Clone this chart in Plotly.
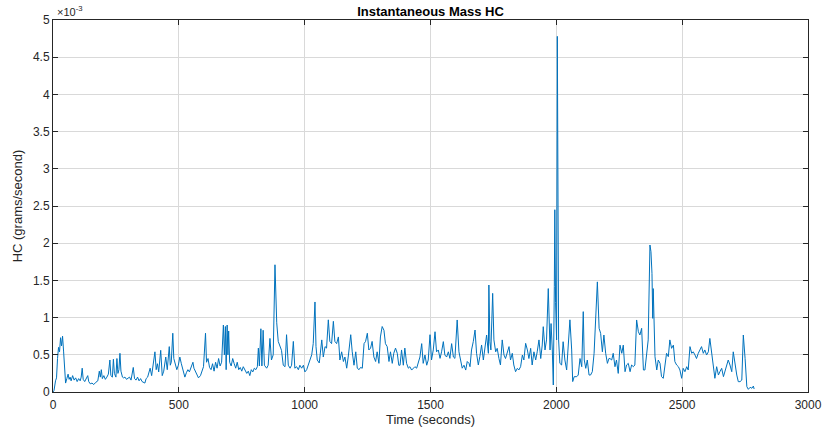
import plotly.graph_objects as go

# Time (s) and HC mass rate (x 1e-3 g/s)
t_sec = [
    0, 4, 10, 14, 18, 22, 26, 30, 34, 38, 42, 46, 50, 55, 60, 64, 68, 72, 78, 84, 90, 96, 102, 108, 112, 116, 120,
    126, 132, 138, 142, 148, 155, 162, 170, 178, 184, 188, 192, 196, 202, 208, 214, 220, 226, 230, 236, 240, 244,
    250, 254, 258, 262, 266, 270, 276,
    280, 286, 292, 298, 304, 310, 319, 324, 330, 336, 342, 348, 354, 365, 370, 376, 382, 386, 392, 398, 405, 410,
    415, 420, 428, 434, 440, 448, 454, 462, 466, 470, 476, 480, 486, 492, 498, 504, 510, 524, 530, 536, 542, 550, 556,
    560, 570, 578, 586, 592, 598, 606, 610, 616, 622, 628, 634, 640, 646, 652, 658, 664, 670, 677, 681, 685, 688,
    692, 695, 698, 702, 708, 714, 720, 726, 732, 738, 744, 750, 756, 762, 770, 776, 782, 788, 794, 800, 806, 812,
    816, 820,
    822, 826, 830, 835, 840, 849, 855, 862, 868, 875, 882, 884, 886, 889, 895, 902, 908, 915, 922, 928, 935, 942,
    948, 955, 961, 968, 975, 981, 988, 995, 1001, 1008, 1015, 1021, 1028, 1034, 1041, 1045, 1050, 1058, 1068, 1074,
    1081, 1087, 1094,
    1100, 1107, 1114, 1120, 1127, 1134, 1140, 1147, 1154, 1160, 1167, 1173, 1183, 1189, 1196, 1203, 1209, 1216,
    1222, 1229, 1236, 1242, 1249, 1255, 1262, 1268, 1275, 1282, 1288, 1295, 1301, 1308, 1315, 1321, 1328, 1335,
    1341, 1348, 1354, 1361, 1368, 1374,
    1379, 1385, 1392, 1398, 1405, 1412, 1418, 1425, 1432, 1438, 1445, 1451, 1458, 1465, 1471, 1478, 1485, 1491,
    1498, 1504, 1511, 1518, 1524, 1531, 1538, 1544, 1551, 1557, 1564, 1571, 1577, 1584, 1591, 1597, 1606, 1613,
    1620, 1626, 1633, 1640, 1646, 1653,
    1657, 1663, 1670, 1677, 1683, 1690, 1696, 1703, 1710, 1716, 1723, 1730, 1732, 1736, 1740, 1747, 1752, 1759,
    1765, 1772, 1778, 1785, 1792, 1798, 1805, 1812, 1818, 1825, 1831, 1838, 1845, 1851, 1858, 1865, 1871, 1878,
    1885, 1891, 1898, 1904, 1911, 1918, 1924, 1931, 1938, 1944,
    1948, 1955, 1961, 1968, 1975, 1979, 1984, 1988, 1992, 1994, 1997, 2001, 2004, 2006, 2009, 2014, 2021, 2027,
    2034, 2041, 2047, 2054, 2061, 2065, 2071, 2081, 2087, 2094, 2101, 2107, 2111, 2117, 2123, 2130, 2136, 2143,
    2150, 2156, 2163, 2170, 2176, 2183, 2189, 2196, 2203, 2209,
    2213, 2220, 2226, 2233, 2239, 2246, 2253, 2260, 2266, 2273, 2279, 2286, 2293, 2299, 2306, 2312, 2319, 2326,
    2332, 2339, 2346, 2352, 2359, 2365, 2372, 2376, 2380, 2383, 2385, 2388, 2392, 2399, 2405, 2412, 2418, 2425,
    2432, 2438, 2445, 2451, 2458, 2465, 2471, 2478, 2485,
    2491, 2498, 2504, 2511, 2518, 2524, 2531, 2538, 2544, 2551, 2557, 2564, 2571, 2577, 2584, 2590, 2597, 2604,
    2610, 2617, 2624, 2630, 2637, 2644, 2650, 2657, 2664, 2670, 2677, 2683, 2690, 2697, 2703, 2710, 2717, 2723,
    2730, 2737, 2743, 2750, 2757, 2763, 2770, 2777, 2783, 2786,
]
hc_milli = [
    0.0, 0.02, 0.15, 0.19, 0.45, 0.6, 0.54, 0.73, 0.62, 0.75, 0.55, 0.3, 0.12, 0.18, 0.24, 0.17, 0.2, 0.15, 0.22,
    0.16, 0.19, 0.14, 0.18, 0.15, 0.2, 0.32, 0.17,
    0.14, 0.18, 0.22, 0.14, 0.11, 0.12, 0.1, 0.13, 0.15, 0.28, 0.2, 0.3, 0.18, 0.22, 0.17, 0.2, 0.24, 0.43, 0.22,
    0.2, 0.44, 0.25, 0.2, 0.45, 0.25, 0.3, 0.52, 0.28, 0.2,
    0.19, 0.2, 0.17, 0.18, 0.2, 0.16, 0.33, 0.18, 0.16, 0.2, 0.15, 0.18, 0.14, 0.12, 0.18, 0.2, 0.26, 0.32, 0.22,
    0.36, 0.54, 0.3,
    0.38, 0.27, 0.56, 0.22, 0.28, 0.47, 0.3, 0.61, 0.36, 0.4, 0.79, 0.45, 0.38, 0.3, 0.36, 0.47, 0.38, 0.2, 0.26,
    0.3, 0.27, 0.35, 0.4,
    0.32, 0.25, 0.19, 0.22, 0.28, 0.34, 0.79, 0.4, 0.45, 0.33, 0.3, 0.38, 0.28, 0.4, 0.32, 0.45, 0.35, 0.4, 0.9,
    0.5, 0.88, 0.3,
    0.9, 0.5, 0.82, 0.4, 0.35, 0.45, 0.38, 0.32, 0.4, 0.3, 0.33, 0.28, 0.34, 0.3, 0.25, 0.28, 0.22, 0.3, 0.27,
    0.32, 0.3, 0.34,
    0.59, 0.35,
    0.6, 0.85, 0.35, 0.83, 0.36, 0.32, 0.36, 0.72, 0.43, 0.5, 1.71, 1.46, 1.55, 0.93, 0.68, 0.61, 0.56, 0.36,
    0.34, 0.77, 0.36, 0.32,
    0.36, 0.68, 0.32, 0.34, 0.3, 0.36, 0.32, 0.36, 0.27, 0.3, 0.36, 0.43, 0.5, 0.65, 1.21, 0.61, 0.43, 0.39, 0.7,
    0.47,
    0.61, 0.59, 0.97,
    0.68, 0.65, 0.95, 0.68, 0.65, 0.74, 0.43, 0.54, 0.41, 0.47, 0.32, 0.47, 0.77, 0.54, 0.36, 0.54, 0.32, 0.3,
    0.33, 0.32, 0.65, 0.68, 0.79, 0.565, 0.59, 0.68, 0.47, 0.41, 0.54, 0.385, 0.74, 0.88, 0.83, 0.65, 0.61, 0.41,
    0.54, 0.385, 0.52, 0.59, 0.52, 0.36,
    0.36, 0.565, 0.36, 0.59, 0.385, 0.32, 0.34, 0.295, 0.32, 0.34, 0.32, 0.385, 0.47, 0.65, 0.385, 0.497, 0.36,
    0.43,
    0.77, 0.43, 0.565, 0.81, 0.54, 0.565, 0.452, 0.54, 0.677, 0.497, 0.47, 0.54, 0.452, 0.65, 0.47, 0.452, 0.968,
    0.54,
    0.41, 0.32, 0.36, 0.295, 0.41, 0.385,
    0.34, 0.565, 0.677, 0.833, 0.52, 0.363, 0.475, 0.632, 0.43, 0.587, 0.766, 0.52, 1.438, 0.677, 0.565, 1.326,
    0.7, 0.54,
    0.587, 0.45, 0.363, 0.7, 0.497, 0.45, 0.54, 0.61, 0.43, 0.52, 0.363, 0.273, 0.318, 0.296, 0.34, 0.497, 0.43,
    0.654,
    0.565, 0.45, 0.587, 0.363, 0.54, 0.43, 0.54, 0.7, 0.45, 0.632,
    0.878, 0.565, 0.70, 1.39, 0.565, 0.92, 0.565, 0.094, 1.415, 2.45, 1.2, 0.7, 4.78, 2.76, 0.7, 0.385, 0.363,
    0.676,
    0.43, 0.296, 0.63, 0.97, 0.565, 0.14, 0.206, 0.206, 0.228, 0.45, 0.34, 1.08, 0.43, 0.318, 0.43, 0.228, 0.228,
    0.273,
    0.52, 0.92, 1.48, 0.856, 0.789, 0.54, 0.766, 0.52, 0.385, 0.45,
    0.45, 0.43, 0.52, 0.34, 0.43, 0.25, 0.63, 0.52, 0.63, 0.273, 0.363, 0.385, 0.273, 0.363, 0.34, 0.363, 0.968,
    0.81,
    0.766, 0.856, 0.296, 0.296, 0.52, 0.7, 1.976, 1.886, 1.595, 0.99, 1.39, 0.99, 0.475, 0.296, 0.43, 0.385, 0.206,
    0.184,
    0.408, 0.52, 0.475, 0.7, 0.587, 0.63, 0.408, 0.363, 0.34,
    0.296, 0.184, 0.318, 0.273, 0.34, 0.296, 0.61, 0.52, 0.54, 0.497, 0.45, 0.52, 0.565, 0.61, 0.52, 0.565, 0.497,
    0.54,
    0.72, 0.52, 0.296, 0.184, 0.34, 0.228, 0.273, 0.318, 0.206, 0.273, 0.363, 0.43, 0.363, 0.273, 0.54, 0.363,
    0.228, 0.139,
    0.139, 0.161, 0.766, 0.45, 0.072, 0.036, 0.063, 0.05, 0.08, 0.04,
]

x_ticks = [0, 500, 1000, 1500, 2000, 2500, 3000]
y_ticks = [0, 0.5, 1, 1.5, 2, 2.5, 3, 3.5, 4, 4.5, 5]
y_tick_text = ["0", "0.5", "1", "1.5", "2", "2.5", "3", "3.5", "4", "4.5", "5"]

FONT = "Liberation Sans, Arial, Helvetica, sans-serif"
AXIS = "#262626"
GRID = "#d9d9d9"

fig = go.Figure()
fig.add_trace(go.Scatter(
    x=t_sec, y=hc_milli, mode="lines",
    line=dict(color="#0072BD", width=1),
    showlegend=False,
))

axis_common = dict(
    showline=True, linecolor=AXIS, linewidth=1, mirror="ticks",
    ticks="inside", ticklen=5, tickcolor=AXIS, tickwidth=1,
    showgrid=True, gridcolor=GRID, gridwidth=1,
    zeroline=False, automargin=False,
    ticklabeloverflow="allow",
    tickfont=dict(family=FONT, size=12, color=AXIS),
)

fig.update_xaxes(
    range=[0, 3000], tickvals=x_ticks,
    ticklabelstandoff=2,
    title=dict(text="Time (seconds)", font=dict(family=FONT, size=13, color=AXIS), standoff=3),
    **axis_common,
)
fig.update_yaxes(
    range=[0, 5], tickvals=y_ticks, ticktext=y_tick_text,
    title=dict(text="HC (grams/second)", font=dict(family=FONT, size=13, color=AXIS), standoff=7),
    **axis_common,
)

fig.update_layout(
    width=825, height=434,
    margin=dict(l=53, r=17, t=20, b=42),
    paper_bgcolor="white", plot_bgcolor="white",
    title=dict(
        text="<b>Instantaneous Mass HC</b>",
        font=dict(family=FONT, size=13, color="black"),
        x=0.5, xref="paper", xanchor="center",
        y=1, yref="paper", yanchor="bottom", pad=dict(b=4),
    ),
    annotations=[dict(
        text="×10<sup>-3</sup>", xref="paper", yref="paper",
        x=0.002, y=1.0, xanchor="left", yanchor="bottom",
        showarrow=False, font=dict(family=FONT, size=11, color=AXIS),
    )],
)

fig.write_html("out.html")
